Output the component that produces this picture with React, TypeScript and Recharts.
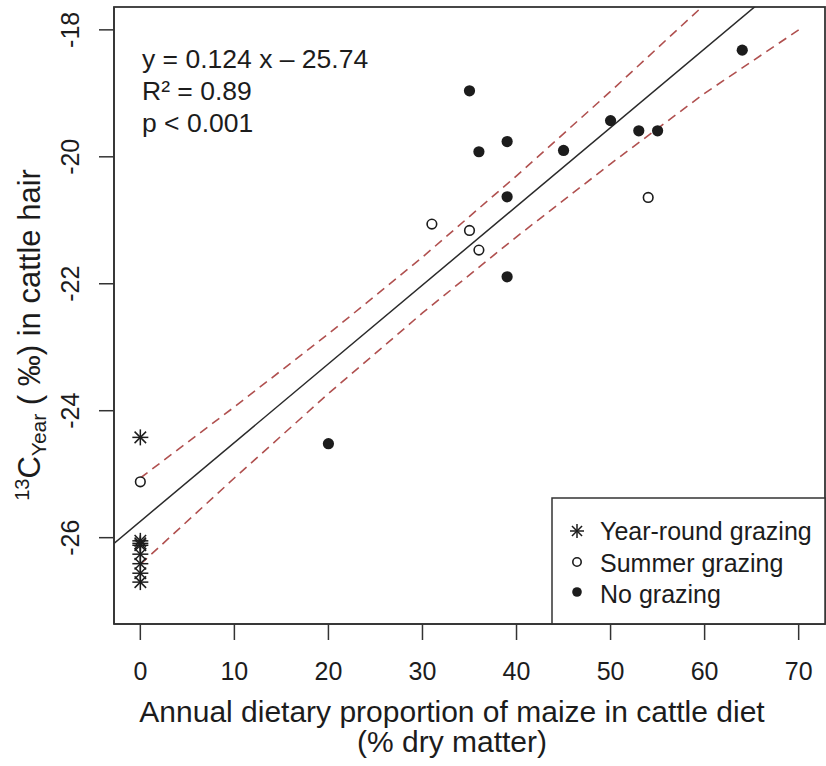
import React from 'react';
import { ComposedChart, Scatter, Line, XAxis, YAxis, Customized } from 'recharts';

const xTicks = [0, 10, 20, 30, 40, 50, 60, 70];
const yTicks = [-26, -24, -22, -20, -18];

// Year-round grazing: all at 0 % maize
const yearRoundX = [0, 0, 0, 0, 0, 0, 0, 0];
const yearRoundY = [-24.42, -26.05, -26.09, -26.12, -26.26, -26.41, -26.56, -26.7];

// Summer grazing
const summerX = [0, 31, 35, 36, 54];
const summerY = [-25.12, -21.06, -21.16, -21.47, -20.64];

// No grazing
const noGrazX = [20, 35, 36, 39, 39, 39, 45, 50, 53, 55, 64];
const noGrazY = [-24.52, -18.96, -19.92, -19.76, -20.63, -21.89, -19.9, -19.43, -19.59, -19.59, -18.32];

// regression line (drawn across the whole panel)
const fitX = [-2.8, 72.8];
const fitY = [-26.09, -16.71];

// confidence band
const bandX = [0, 10, 20, 30, 40, 50, 60, 70];
const upperY = [-25.06, -23.94, -22.79, -21.58, -20.3, -18.97, -17.6, -16.15];
const lowerY = [-26.42, -25.06, -23.73, -22.46, -21.26, -20.11, -19.0, -18.0];

const pts = (xs: number[], ys: number[]) => xs.map((x, i) => ({ x, y: ys[i] }));

const INK = '#1c1c1c';
const FONT = '"Liberation Sans", Arial, sans-serif';

function Star({ cx, cy, s = 8 }: { cx: number; cy: number; s?: number }) {
  const d = s * 0.72;
  return (
    <g stroke={INK} strokeWidth={1.5}>
      <line x1={cx - s} y1={cy} x2={cx + s} y2={cy} />
      <line x1={cx} y1={cy - s} x2={cx} y2={cy + s} />
      <line x1={cx - d} y1={cy - d} x2={cx + d} y2={cy + d} />
      <line x1={cx - d} y1={cy + d} x2={cx + d} y2={cy - d} />
    </g>
  );
}

const OpenDot = ({ cx, cy, r = 4.8 }: { cx: number; cy: number; r?: number }) => (
  <circle cx={cx} cy={cy} r={r} fill="#fff" stroke={INK} strokeWidth={1.6} />
);

const FullDot = ({ cx, cy, r = 5.6 }: { cx: number; cy: number; r?: number }) => (
  <circle cx={cx} cy={cy} r={r} fill={INK} />
);

function XTick(p: any) {
  return (
    <text x={p.x} y={680} textAnchor="middle" fontSize={25} fontFamily={FONT} fill={INK}>
      {p.payload.value}
    </text>
  );
}

function YTick(p: any) {
  return (
    <text
      transform={`translate(79, ${p.y}) rotate(-90)`}
      textAnchor="middle"
      fontSize={25}
      fontFamily={FONT}
      fill={INK}
    >
      {p.payload.value}
    </text>
  );
}

// frame, titles, equation and legend
function Overlay() {
  return (
    <g fontFamily={FONT} fill={INK}>
      <rect x={114} y={7} width={711} height={617} fill="none" stroke="#333" strokeWidth={1.8} />
      <text x={142} y={68} fontSize={26.5}>y = 0.124 x – 25.74</text>
      <text x={142} y={100} fontSize={26.5}>R² = 0.89</text>
      <text x={142} y={132} fontSize={26.5}>p &lt; 0.001</text>

      <text x={452} y={722} fontSize={30} textAnchor="middle">
        Annual dietary proportion of maize in cattle diet
      </text>
      <text x={452} y={752} fontSize={30} textAnchor="middle">
        (% dry matter)
      </text>

      <text transform="translate(40, 335) rotate(-90)" textAnchor="middle" fontSize={31}>
        <tspan fontSize={20} dy={-11}>13</tspan>
        <tspan dy={11}>C</tspan>
        <tspan fontSize={21} dy={6}>Year</tspan>
        <tspan dy={-6}> ( ‰) in cattle hair</tspan>
      </text>

      <rect x={552} y={498} width={273} height={126} fill="#fff" stroke="#333" strokeWidth={1.5} />
      <Star cx={577} cy={531} s={7} />
      <OpenDot cx={577} cy={562} r={4.2} />
      <FullDot cx={577} cy={592} r={4.8} />
      <text x={600} y={540} fontSize={25}>Year-round grazing</text>
      <text x={600} y={572} fontSize={25}>Summer grazing</text>
      <text x={600} y={603} fontSize={25}>No grazing</text>
    </g>
  );
}

export default function App() {
  return (
    <div style={{ position: 'absolute', left: 0, top: 0, background: '#fff' }}>
      <ComposedChart width={826} height={766} margin={{ top: 7, right: 1, bottom: 0, left: 0 }}>
        <XAxis
          type="number"
          dataKey="x"
          domain={[-2.8, 72.8]}
          ticks={xTicks}
          allowDataOverflow
          height={142}
          tickSize={16}
          tickLine={{ stroke: '#333', strokeWidth: 1.5 }}
          axisLine={{ stroke: '#333', strokeWidth: 1.5 }}
          tick={XTick}
        />
        <YAxis
          type="number"
          dataKey="y"
          domain={[-27.36, -17.64]}
          ticks={yTicks}
          allowDataOverflow
          width={114}
          tickSize={15}
          tickLine={{ stroke: '#333', strokeWidth: 1.5 }}
          axisLine={{ stroke: '#333', strokeWidth: 1.5 }}
          tick={YTick}
        />
        <Line
          data={pts(bandX, upperY)}
          dataKey="y"
          type="linear"
          stroke="#b0504f"
          strokeWidth={1.6}
          strokeDasharray="9 6"
          dot={false}
          activeDot={false}
          isAnimationActive={false}
        />
        <Line
          data={pts(bandX, lowerY)}
          dataKey="y"
          type="linear"
          stroke="#b0504f"
          strokeWidth={1.6}
          strokeDasharray="9 6"
          dot={false}
          activeDot={false}
          isAnimationActive={false}
        />
        <Line
          data={pts(fitX, fitY)}
          dataKey="y"
          type="linear"
          stroke="#2a2a2a"
          strokeWidth={1.5}
          dot={false}
          activeDot={false}
          isAnimationActive={false}
        />
        <Scatter
          data={pts(yearRoundX, yearRoundY)}
          dataKey="y"
          shape={(p: any) => <Star cx={p.cx} cy={p.cy} />}
          isAnimationActive={false}
        />
        <Scatter
          data={pts(summerX, summerY)}
          dataKey="y"
          shape={(p: any) => <OpenDot cx={p.cx} cy={p.cy} />}
          isAnimationActive={false}
        />
        <Scatter
          data={pts(noGrazX, noGrazY)}
          dataKey="y"
          shape={(p: any) => <FullDot cx={p.cx} cy={p.cy} />}
          isAnimationActive={false}
        />
        <Customized component={Overlay} />
      </ComposedChart>
    </div>
  );
}
